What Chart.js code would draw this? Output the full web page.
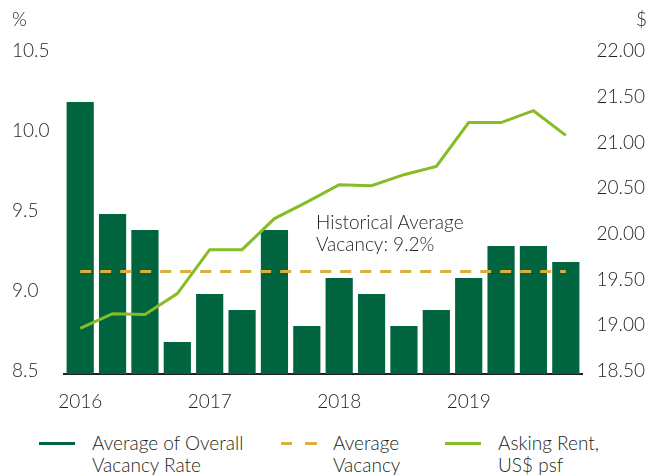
<!DOCTYPE html>
<html>
<head>
<meta charset="utf-8">
<script src="https://cdn.jsdelivr.net/npm/chart.js@4"></script>
<style>
  body { margin: 0; background: #fff; }
  #wrap { position: relative; width: 663px; height: 475px; font-family: Lato, sans-serif; font-weight: 300; color: #231f20; }
  #chart { position: absolute; left: 0; top: 0; }
  .unit { position: absolute; top: 8px; font-size: 19px; line-height: 22px; }
  #note { position: absolute; left: 316px; top: 211px; font-size: 19px; line-height: 22px; }
  #legend .item { position: absolute; top: 432px; font-size: 19px; line-height: 22px; }
  #legend .swatch { position: absolute; top: 443px; height: 0; }
</style>
</head>
<body>
<div id="wrap">
  <canvas id="chart" width="663" height="420"></canvas>
  <div class="unit" style="left:12px">%</div>
  <div class="unit" style="left:636px">$</div>
  <div id="note">Historical Average<br>Vacancy: 9.2%</div>
  <div id="legend"></div>
</div>
<script>
const QUARTERS = ["2016 Q1", "2016 Q2", "2016 Q3", "2016 Q4",
                  "2017 Q1", "2017 Q2", "2017 Q3", "2017 Q4",
                  "2018 Q1", "2018 Q2", "2018 Q3", "2018 Q4",
                  "2019 Q1", "2019 Q2", "2019 Q3", "2019 Q4"];
const TICK_LABELS = ["2016", "", "", "", "2017", "", "", "", "2018", "", "", "", "2019", "", "", ""];

const vacancy        = [10.2, 9.5, 9.4, 8.7, 9.0, 8.9, 9.4, 8.8, 9.1, 9.0, 8.8, 8.9, 9.1, 9.3, 9.3, 9.2];
const averageVacancy = [9.14, 9.14, 9.14, 9.14, 9.14, 9.14, 9.14, 9.14, 9.14, 9.14, 9.14, 9.14, 9.14, 9.14, 9.14, 9.14];
const askingRent     = [19.00, 19.16, 19.15, 19.38, 19.86, 19.86, 20.20, 20.38, 20.57, 20.56, 20.68, 20.77, 21.25, 21.25, 21.38, 21.11];

const LEFT_TICKS  = [8.5, 9.0, 9.5, 10.0, 10.5];
const RIGHT_TICKS = [18.5, 19.0, 19.5, 20.0, 20.5, 21.0, 21.5, 22.0];

const GREEN = "#00643f";
const LIME  = "#86bc25";
const GOLD  = "#dcae40";
const INK   = "#231f20";

const font = { family: "Lato, sans-serif", size: 19, weight: 300 };

let ctx = document.getElementById("chart");
let chart = new Chart(ctx, {
  type: "bar",
  data: {
    labels: QUARTERS,
    datasets: [{
      type: "line",
      label: ["Asking Rent,", "US$ psf"],
      data: askingRent,
      yAxisID: "y2",
      borderColor: LIME,
      borderWidth: 3,
      pointRadius: 0,
      tension: 0,
      order: 1
    }, {
      type: "line",
      label: ["Average", "Vacancy"],
      data: averageVacancy,
      yAxisID: "y",
      borderColor: GOLD,
      borderWidth: 3,
      borderDash: [11, 9],
      pointRadius: 0,
      order: 2
    }, {
      label: ["Average of Overall", "Vacancy Rate"],
      data: vacancy,
      yAxisID: "y",
      backgroundColor: GREEN,
      barPercentage: 0.84,
      categoryPercentage: 1,
      order: 3
    }]
  },
  options: {
    responsive: false,
    animation: false,
    layout: { padding: { left: 12, right: 18, top: 54, bottom: 0 } },
    plugins: { legend: { display: false }, tooltip: { enabled: false } },
    scales: {
      x: {
        grid: { display: false, drawTicks: false },
        border: { display: true, color: INK, width: 2 },
        ticks: { color: INK, font: font, padding: 16, maxRotation: 0, autoSkip: false,
                 callback: (v, i) => TICK_LABELS[i] },
        afterFit: (scale) => { scale.height = 46; }
      },
      y: {
        position: "left",
        min: 8.5, max: 10.5,
        grid: { display: false, drawTicks: false },
        border: { display: false },
        afterBuildTicks: (scale) => { scale.ticks = LEFT_TICKS.map(v => ({ value: v })); },
        ticks: { color: INK, font: font, crossAlign: "far", labelOffset: -3,
                 callback: (v) => v.toFixed(1) },
        afterFit: (scale) => { scale.width = 52; }
      },
      y2: {
        position: "right",
        min: 18.5, max: 22,
        grid: { display: false, drawTicks: false },
        border: { display: false },
        afterBuildTicks: (scale) => { scale.ticks = RIGHT_TICKS.map(v => ({ value: v })); },
        ticks: { color: INK, font: font, crossAlign: "far", labelOffset: -3,
                 callback: (v) => v.toFixed(2) },
        afterFit: (scale) => { scale.width = 63; }
      }
    }
  }
});

// legend in html, two-line labels
const LEGEND_POS = [
  { sample: 39, text: 92, dataset: 2 },
  { sample: 281, text: 333, dataset: 1 },
  { sample: 445, text: 498, dataset: 0 }
];

let legend = document.getElementById("legend");
LEGEND_POS.forEach((p) => {
  let ds = chart.data.datasets[p.dataset];
  let sw = document.createElement("div");
  sw.className = "swatch";
  sw.style.left = p.sample + "px";
  sw.style.width = "36px";
  sw.style.height = "3px";
  sw.style.marginTop = "-1px";
  if (ds.borderDash) {
    sw.style.backgroundImage = `linear-gradient(to right, ${ds.borderColor} 11px, transparent 11px, transparent 24px, ${ds.borderColor} 24px)`;
  } else {
    sw.style.background = ds.type === "line" ? ds.borderColor : ds.backgroundColor;
  }
  legend.appendChild(sw);

  let it = document.createElement("div");
  it.className = "item";
  it.style.left = p.text + "px";
  it.innerHTML = ds.label.join("<br>");
  legend.appendChild(it);
});
</script>
</body>
</html>
